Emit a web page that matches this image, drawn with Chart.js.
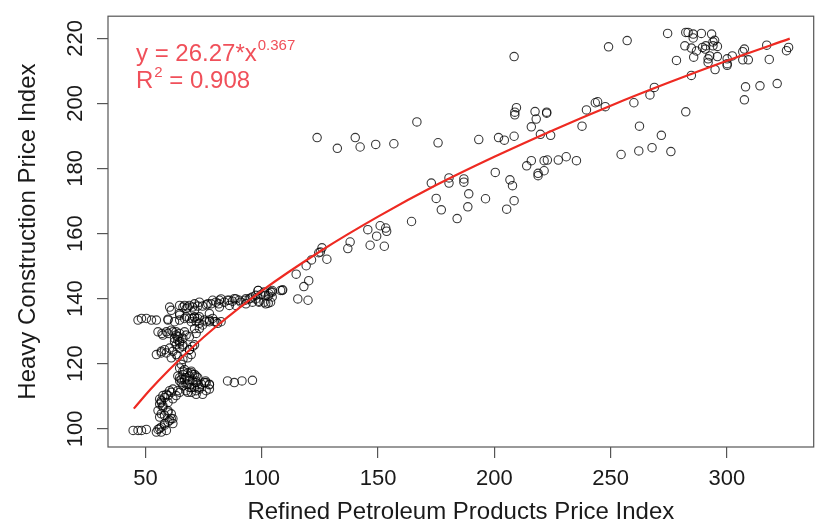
<!DOCTYPE html>
<html>
<head>
<meta charset="utf-8">
<script src="https://cdn.jsdelivr.net/npm/chart.js@4/dist/chart.umd.min.js"></script>
<style>
  body { margin: 0; background: #fff; }
  canvas { display: block; }
</style>
</head>
<body>
<canvas id="myChart" width="819" height="523"></canvas>
<script>
// tick labels
var xTicks = [50, 100, 150, 200, 250, 300];
var yTicks = [100, 120, 140, 160, 180, 200, 220];

// scatter values (petroleum index, construction index)
var petroX = [
  44.7, 46.8, 48.3, 50.4,
  55.4, 56.8, 58.2, 60.4, 61.8, 61.1, 59.7, 57.5, 56.8, 56.1, 57.5, 59.0, 60.4, 61.8, 63.9,
  55.4, 56.8, 56.1, 58.2, 59.7, 61.1, 59.7, 61.8, 58.2, 56.1, 54.7, 56.8, 59.0,
  61.1, 59.7, 58.2, 56.8, 56.1, 57.5, 59.7, 61.8, 63.2, 64.7,
  65.4, 66.8, 66.1, 65.4, 67.5, 68.2, 69.7, 67.5, 66.1, 64.7, 63.9,
  68.9, 70.3, 71.8, 70.3, 71.8, 72.5, 74.0, 75.3, 77.5, 73.2, 71.1, 68.9, 67.5, 69.7, 71.8, 74.6, 76.1, 77.5,
  64.7, 66.1, 69.7, 71.1, 64.7, 66.8, 68.9, 72.5, 65.4, 68.2, 71.8, 69.7, 71.8, 68.2, 73.2, 76.1,
  75.8, 77.5,
  85.3, 88.2, 91.5, 96.0,
  54.7, 56.8, 58.2, 60.4, 61.8, 63.9, 66.1, 68.2, 69.7, 68.9, 70.3, 71.1,
  56.8, 59.0, 61.1, 63.2, 64.7, 66.1, 68.9,
  59.0, 61.1, 63.2, 64.7, 63.9, 62.5, 64.7, 63.2, 66.1, 55.4, 57.1,
  57.5, 59.7, 61.8, 63.2, 66.8, 67.5, 66.1, 63.9, 62.5, 64.7, 68.9, 71.8, 71.1, 73.2,
  59.7, 62.5, 64.7, 66.8, 68.9, 71.1, 72.5, 73.2, 74.6, 76.1, 77.5, 79.6, 81.0,
  67.5, 71.1, 71.8, 69.7, 75.3, 77.5, 78.9, 80.3, 82.5,
  67.5, 71.1, 64.7, 70.3, 73.2, 77.5,
  61.1, 64.7, 59.7, 60.4,
  46.8, 48.3, 50.4, 52.6, 54.7,
  64.7, 66.8, 68.9, 71.1, 73.2, 76.8, 78.9, 81.5, 82.5, 85.3, 87.4, 88.9, 91.0, 92.9, 94.6, 96.0, 97.4, 98.8,
  66.1, 68.2, 70.3, 72.5, 74.6, 76.1, 78.2, 80.3, 81.8, 83.9, 86.0, 88.2, 90.3, 93.2, 95.3, 97.4, 99.6, 101.7, 103.1, 104.5, 108.1,
  81.8, 86.1, 88.9, 93.2,
  96.0, 98.8, 101.7, 103.8, 104.5,
  98.4, 103.8, 102.8, 102.8, 101.0, 109.0,
  98.5, 101.0, 104.5, 108.8,
  115.5, 119.9, 118.1, 120.2, 114.8, 119.1, 121.4, 124.5, 125.2, 125.9, 128.0, 137.0, 138.0,
  146.6, 149.4, 152.7, 145.6, 150.9, 153.3, 153.7, 164.4,
  123.8, 132.5, 140.2, 142.3, 149.0, 156.8, 166.7, 175.8,
  172.9, 180.5, 180.5, 175.0, 177.2, 184.0, 186.9, 186.9, 189.0, 188.6, 196.2, 200.4, 206.7,
  207.8, 208.5, 205.3, 213.9, 215.9, 218.8, 218.8, 221.4, 221.4, 222.8, 227.5, 230.9, 235.3,
  193.3, 201.8, 204.3, 208.5, 208.5, 209.5, 208.8, 208.8, 217.5, 218.0, 215.9, 222.5, 222.5,
  219.8, 224.2, 237.7, 239.6, 243.4, 247.7, 249.1, 257.1, 244.4,
  260.0, 262.4, 266.9, 268.8, 271.8, 275.9, 267.8, 262.1, 254.5, 282.3, 284.7, 278.3,
  274.5, 282.3, 283.3, 285.5, 285.5, 289.0, 293.4, 281.9, 284.7, 289.5, 290.7, 290.9,
  294.0, 294.0, 295.9, 285.7, 291.9, 291.9, 295.9, 294.9, 300.1, 300.1, 300.1, 302.3,
  306.8, 307.5, 306.8, 309.2, 317.1, 318.2, 308.0, 307.5, 314.2, 321.6, 325.6, 326.5,
  294.7, 292.6, 286.9
];
var constrY = [
  99.5, 99.5, 99.5, 99.8,
  99.8, 100.5, 101.6, 102.6, 103.1, 104.6, 105.6, 106.6, 108.1, 109.1, 110.2, 110.6, 111.7, 112.2, 111.7,
  105.6, 104.6, 103.6, 104.1, 105.1, 103.1, 102.1, 101.6, 101.1, 100.1, 99.0, 99.0, 99.5,
  111.2, 110.2, 109.6, 108.6, 107.6, 107.1, 108.1, 109.2, 110.2, 111.2,
  119.8, 118.2, 116.7, 115.2, 115.7, 117.2, 117.7, 113.7, 113.2, 114.7, 116.2,
  116.2, 116.7, 116.2, 114.7, 114.7, 113.7, 113.7, 114.2, 113.7, 112.2, 112.7, 112.7, 111.7, 111.2, 110.6, 110.6, 111.7, 112.2,
  118.7, 117.7, 117.2, 116.7, 115.7, 115.2, 114.7, 115.7, 114.2, 113.7, 114.2, 112.7, 111.7, 111.2, 112.7, 114.2,
  114.7, 113.5,
  114.7, 114.2, 114.7, 114.9,
  122.8, 123.3, 124.3, 124.8, 123.8, 122.3, 121.3, 121.8, 122.8, 124.3, 125.3, 125.8,
  123.8, 123.3, 121.8, 122.8, 124.8, 125.8, 124.3,
  129.8, 130.3, 129.8, 129.3, 128.3, 127.8, 126.8, 125.8, 125.3, 129.8, 129.3,
  128.8, 129.3, 129.8, 128.8, 129.8, 128.8, 127.8, 127.3, 126.8, 126.3, 128.3, 129.3, 130.8, 130.8,
  133.7, 132.9, 133.4, 133.9, 133.9, 134.4, 133.9, 132.4, 131.9, 132.9, 133.4, 132.9, 132.4,
  134.4, 134.2, 132.9, 132.9, 133.4, 132.9, 133.9, 132.9, 132.9,
  136.9, 136.4, 134.9, 133.9, 134.4, 135.4,
  136.4, 135.4, 133.4, 137.4,
  133.4, 133.9, 133.9, 133.4, 133.4,
  137.9, 137.9, 137.9, 138.4, 138.9, 138.4, 139.5, 138.4, 139.9, 139.5, 139.2, 139.9, 138.9, 139.5, 139.9, 140.5, 139.9, 139.2,
  137.4, 137.4, 137.4, 137.7, 137.7, 138.1, 138.4, 138.9, 139.5, 138.9, 139.5, 140.0, 139.5, 140.0, 140.2, 141.0, 141.2, 141.0, 141.5, 142.0, 142.5,
  137.4, 137.9, 137.9, 138.4,
  138.9, 138.9, 138.4, 138.9, 140.5,
  142.5, 142.0, 140.8, 138.6, 138.9, 142.7,
  142.5, 142.0, 142.5, 142.5,
  139.9, 139.5, 143.7, 145.5, 147.5, 150.1, 151.9, 154.1, 154.3, 155.6, 152.1, 155.4, 157.4,
  156.4, 159.2, 156.1, 161.2, 162.4, 161.7, 160.7, 163.7,
  189.5, 186.2, 189.5, 186.6, 187.4, 187.6, 194.3, 187.9,
  175.5, 177.1, 175.5, 170.8, 167.3, 164.6, 176.8, 175.8, 172.2, 168.2, 170.7, 178.8, 176.5,
  174.7, 170.1, 167.5, 180.8, 182.4, 178.5, 177.8, 179.3, 182.4, 182.6, 182.6, 183.6, 182.4,
  188.9, 189.5, 188.7, 189.9, 214.4, 198.7, 197.3, 196.5, 197.5, 195.2, 192.8, 197.3, 197.0,
  190.5, 190.2, 193.0, 198.0, 200.2, 199.0, 217.4, 219.3, 200.5,
  200.2, 193.0, 202.6, 204.9, 190.2, 185.2, 186.4, 185.4, 184.3, 197.4, 208.6, 213.2,
  221.5, 221.8, 221.8, 221.3, 220.1, 221.5, 221.3, 217.7, 217.0, 217.2, 216.7, 217.7,
  217.7, 218.9, 217.5, 214.2, 213.7, 212.6, 214.4, 210.4, 213.7, 211.7, 212.2, 214.6,
  215.9, 216.7, 213.4, 213.4, 217.9, 213.5, 205.1, 201.1, 205.4, 206.1, 216.2, 217.2,
  219.4, 214.6, 216.1
];

// fitted power curve y = 26.27*x^0.367
var fitX = [45, 52, 60, 70, 80, 100, 125, 150, 175, 200, 225, 250, 275, 300, 327];
var fitY = [106.2, 112.0, 118.0, 124.9, 131.2, 142.4, 154.5, 165.2, 174.9, 183.6, 191.7, 199.3, 206.4, 213.1, 219.9];

var points = petroX.map(function(v, i) { return {x: v, y: constrY[i]}; });
var fitLine = fitX.map(function(v, i) { return {x: v, y: fitY[i]}; });

var boxPlugin = {
  id: 'boxAndLabel',
  afterDraw: function(chart) {
    var ctx = chart.ctx;
    var a = chart.chartArea;
    ctx.save();
    ctx.strokeStyle = '#555';
    ctx.lineWidth = 1.2;
    ctx.strokeRect(a.left, a.top, a.right - a.left, a.bottom - a.top);

    ctx.fillStyle = '#f0505a';
    ctx.textBaseline = 'alphabetic';
    ctx.font = '24px "Liberation Sans", Arial, sans-serif';
    var t1 = 'y = 26.27*x';
    ctx.fillText(t1, 136, 61);
    var w1 = ctx.measureText(t1).width;
    ctx.font = '15px "Liberation Sans", Arial, sans-serif';
    ctx.fillText('0.367', 136 + w1 + 1, 50);

    ctx.font = '24px "Liberation Sans", Arial, sans-serif';
    ctx.fillText('R', 136, 88);
    var wr = ctx.measureText('R').width;
    ctx.font = '15px "Liberation Sans", Arial, sans-serif';
    ctx.fillText('2', 136 + wr + 1, 77);
    var w2 = ctx.measureText('2').width;
    ctx.font = '24px "Liberation Sans", Arial, sans-serif';
    ctx.fillText(' = 0.908', 136 + wr + w2 + 1, 88);
    ctx.restore();
  }
};

var tickFont = { family: '"Liberation Sans", Arial, sans-serif', size: 22 };
var titleFont = { family: '"Liberation Sans", Arial, sans-serif', size: 24 };

var ctx = document.getElementById('myChart').getContext('2d');
var myChart = new Chart(ctx, {
  data: {
    datasets: [{
      type: 'scatter',
      label: 'observations',
      data: points,
      pointStyle: 'circle',
      pointRadius: 4.2,
      pointBorderWidth: 1.1,
      pointBorderColor: 'rgba(0,0,0,0.78)',
      pointBackgroundColor: 'rgba(0,0,0,0)',
      order: 2
    }, {
      type: 'line',
      label: 'fit',
      data: fitLine,
      borderColor: '#ee2a22',
      borderWidth: 2.2,
      pointRadius: 0,
      fill: false,
      cubicInterpolationMode: 'monotone',
      order: 1
    }]
  },
  options: {
    responsive: false,
    animation: false,
    devicePixelRatio: 1,
    layout: { padding: { left: 0, right: 1, top: 10, bottom: 0 } },
    plugins: {
      legend: { display: false },
      tooltip: { enabled: false }
    },
    scales: {
      x: {
        type: 'linear',
        min: 33.9,
        max: 337.3,
        afterBuildTicks: function(scale) {
          scale.ticks = xTicks.map(function(v) { return {value: v}; });
        },
        afterFit: function(scale) { scale.height = 76; },
        grid: { drawOnChartArea: false, drawTicks: true, tickLength: 11, color: '#555', lineWidth: 1.2 },
        border: { display: false },
        ticks: { font: tickFont, color: '#1a1a1a', padding: 8, maxRotation: 0 },
        title: {
          display: true,
          text: 'Refined Petroleum Products Price Index',
          font: titleFont,
          color: '#1a1a1a',
          padding: { top: 0, bottom: -4 }
        }
      },
      y: {
        type: 'linear',
        min: 94.4,
        max: 226.8,
        afterBuildTicks: function(scale) {
          scale.ticks = yTicks.map(function(v) { return {value: v}; });
        },
        afterFit: function(scale) { scale.width = 108; },
        grid: { drawOnChartArea: false, drawTicks: true, tickLength: 11, color: '#555', lineWidth: 1.2 },
        border: { display: false },
        ticks: { font: tickFont, color: '#1a1a1a', padding: 3, minRotation: 90, maxRotation: 90, crossAlign: 'center' },
        title: {
          display: true,
          text: 'Heavy Construction Price Index',
          font: titleFont,
          color: '#1a1a1a',
          padding: { top: 14, bottom: 0 }
        }
      }
    }
  },
  plugins: [boxPlugin]
});
</script>
</body>
</html>
